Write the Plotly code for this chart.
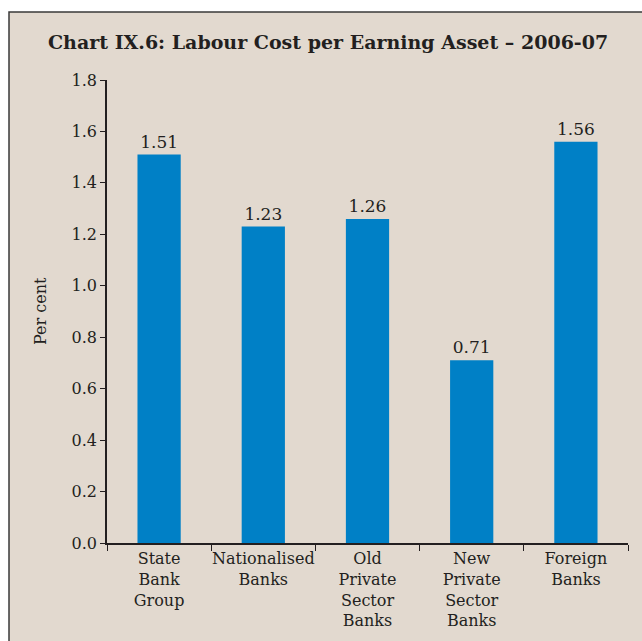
import plotly.graph_objects as go

# Labour cost per earning asset, by bank group, 2006-07 (per cent)
categories = ["State<br>Bank<br>Group", "Nationalised<br>Banks", "Old<br>Private<br>Sector<br>Banks",
              "New<br>Private<br>Sector<br>Banks", "Foreign<br>Banks"]
values = [1.51, 1.23, 1.26, 0.71, 1.56]
y_ticks = [0.0, 0.2, 0.4, 0.6, 0.8, 1.0, 1.2, 1.4, 1.6, 1.8]

BG = "#e2d9cf"
BAR = "#0080c6"
INK = "#231f20"
FONT = "DejaVu Serif"

W, H = 642, 641
L, R, T, B = 107, 14, 80, 98
pw, ph = W - L - R, H - T - B

def px(x):
    return (x - L) / pw

def py(y):
    return (H - B - y) / ph

fig = go.Figure(go.Bar(
    x=categories, y=values,
    marker=dict(color=BAR, line=dict(width=0)),
    text=[f"{v:.2f}" for v in values],
    textposition="outside",
    textfont=dict(family=FONT, size=17, color=INK),
    cliponaxis=False,
))

fig.update_layout(
    width=W, height=H,
    margin=dict(l=L, r=R, t=T, b=B, autoexpand=False),
    paper_bgcolor="white",
    plot_bgcolor=BG,
    bargap=0.585,
    showlegend=False,
    font=dict(family=FONT, color=INK),
    shapes=[dict(type="rect", xref="paper", yref="paper", layer="below",
                 x0=px(9), x1=px(660), y0=py(660), y1=py(12),
                 fillcolor=BG, line=dict(color="#3a3a3a", width=1.5))],
    annotations=[
        dict(text="<b>Chart IX.6: Labour Cost per Earning Asset \u2013 2006-07</b>",
             xref="paper", yref="paper", x=px(328), y=py(42),
             xanchor="center", yanchor="middle", showarrow=False,
             font=dict(family=FONT, size=19, color=INK)),
        dict(text="Per cent", textangle=-90,
             xref="paper", yref="paper", x=px(40), y=py(311),
             xanchor="center", yanchor="middle", showarrow=False,
             font=dict(family=FONT, size=16, color=INK)),
    ],
)

fig.update_xaxes(
    type="category", automargin=False, tickangle=0,
    showline=True, linecolor=INK, linewidth=1.5,
    ticks="outside", tickson="boundaries", ticklen=6, tickcolor=INK, tickwidth=1.2,
    tickfont=dict(family=FONT, size=16, color=INK),
    showgrid=False,
)
fig.update_yaxes(
    range=[0, 1.8], automargin=False,
    tickvals=y_ticks, ticktext=[f"{v:.1f}" for v in y_ticks],
    showline=True, linecolor=INK, linewidth=1.5,
    ticks="outside", ticklen=5, tickcolor=INK, tickwidth=1.2,
    tickfont=dict(family=FONT, size=16, color=INK),
    showgrid=False, zeroline=False,
)

fig.write_html("out.html")
